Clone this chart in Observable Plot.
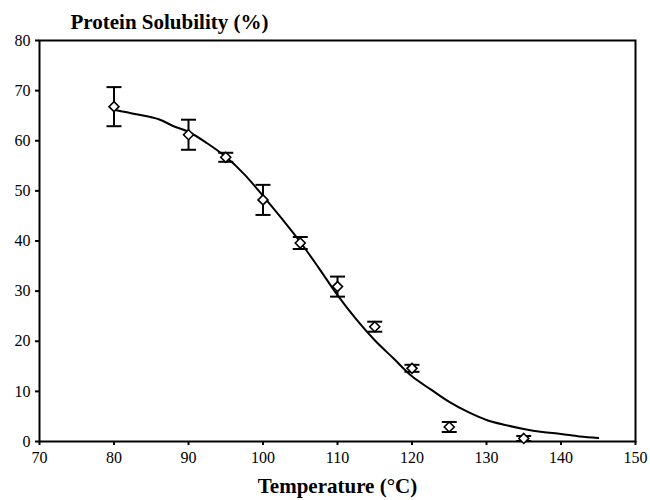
<!DOCTYPE html>
<html>
<head>
<meta charset="utf-8">
<script src="https://cdn.jsdelivr.net/npm/d3@7"></script>
<script src="https://cdn.jsdelivr.net/npm/@observablehq/plot@0.6"></script>
<style>
  html, body { margin: 0; padding: 0; background: #fff; }
  svg { display: block; }
  svg text { font-family: "Liberation Serif", "Times New Roman", serif !important; fill: #000; }
  svg g[aria-label="x-axis tick label"], svg g[aria-label="y-axis tick label"] { font-size: 16px !important; }
</style>
</head>
<body>
<div id="chart"></div>
<script>
// Measured data (mean ± error)
const temps = [80, 90, 95, 100, 105, 110, 115, 120, 125, 135];
const solubility = [66.8, 61.2, 56.7, 48.2, 39.6, 30.9, 22.9, 14.6, 2.9, 0.6];
const errors = [3.9, 3.0, 0.9, 3.0, 1.2, 2.0, 1.0, 0.7, 1.0, 0.5];

// Fitted curve
const curveTemps = [80, 83, 86, 88, 90, 92.5, 95, 97.5, 100, 102.5, 105, 107.5, 110, 112.5, 115, 117.5, 120, 122.5, 125, 127.5, 130, 132.5, 135, 137.5, 140, 142.5, 145];
const curveValues = [66.2, 65.3, 64.3, 62.9, 61.8, 59.5, 56.8, 53.3, 49.0, 44.5, 39.8, 34.6, 29.2, 24.4, 20.2, 16.6, 13.0, 10.4, 7.9, 5.9, 4.3, 3.3, 2.5, 1.9, 1.5, 1.0, 0.7];

// Tick labels
const xTicks = [70, 80, 90, 100, 110, 120, 130, 140, 150];
const yTicks = [0, 10, 20, 30, 40, 50, 60, 70, 80];

const points = temps.map((t, i) => ({t, v: solubility[i], lo: solubility[i] - errors[i], hi: solubility[i] + errors[i]}));
const curve = curveTemps.map((t, i) => ({t, v: curveValues[i]}));

const capSymbol = {
  draw(context, size) {
    const w = Math.sqrt(size / Math.PI);
    context.moveTo(-w, 0);
    context.lineTo(w, 0);
  }
};

const serif = "Liberation Serif, Times New Roman, serif";

const chart = Plot.plot({
  width: 650,
  height: 500,
  marginLeft: 39,
  marginRight: 15,
  marginTop: 40,
  marginBottom: 59,
  style: {fontFamily: serif, fontSize: "16px", color: "#000", background: "#fff"},
  x: {domain: [70, 150], ticks: xTicks, label: null},
  y: {domain: [0, 80], ticks: yTicks, label: null},
  marks: [
    Plot.frame({stroke: "#000", strokeWidth: 2}),
    Plot.axisX({ticks: xTicks, tickSize: 4, tickPadding: 6, strokeWidth: 2, fontSize: 16, label: null}),
    Plot.axisY({ticks: yTicks, tickSize: 4, tickPadding: 5, strokeWidth: 2, fontSize: 16, label: null}),
    Plot.line(curve, {x: "t", y: "v", curve: "catmull-rom", stroke: "#000", strokeWidth: 2}),
    Plot.ruleX(points, {x: "t", y1: "lo", y2: "hi", stroke: "#000", strokeWidth: 2}),
    Plot.dot(points, {x: "t", y: "lo", symbol: capSymbol, r: 7.5, stroke: "#000", strokeWidth: 2}),
    Plot.dot(points, {x: "t", y: "hi", symbol: capSymbol, r: 7.5, stroke: "#000", strokeWidth: 2}),
    Plot.dot(points, {x: "t", y: "v", symbol: "diamond2", r: 4.5, fill: "#fff", stroke: "#000", strokeWidth: 1.6}),
    Plot.text(["Protein Solubility (%)"], {frameAnchor: "top-left", dx: 31, dy: -26, textAnchor: "start", fontWeight: "bold", fontSize: 21, fill: "#000"}),
    Plot.text(["Temperature (°C)"], {frameAnchor: "bottom", dy: 51, fontWeight: "bold", fontSize: 21, fill: "#000"})
  ]
});

document.getElementById("chart").appendChild(chart);
</script>
</body>
</html>
